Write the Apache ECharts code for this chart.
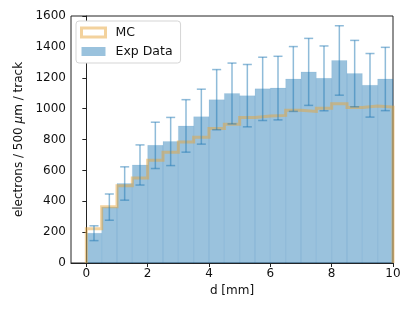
<!DOCTYPE html>
<html>
<head>
<meta charset="utf-8">
<script src="https://cdn.jsdelivr.net/npm/echarts@6/dist/echarts.min.js"></script>
<style>
html,body{margin:0;padding:0;background:#fff;}
#chart{width:415px;height:311px;}
</style>
</head>
<body>
<div id="chart"></div>
<script>
// Bin edges in mm
const binEdges = [0,0.5,1,1.5,2,2.5,3,3.5,4,4.5,5,5.5,6,6.5,7,7.5,8,8.5,9,9.5,10];
// Experimental data (electrons / 500 um / track) and its uncertainty
const expData = [193,362,515,635,762,787,888,948,1058,1098,1084,1128,1133,1192,1238,1196,1312,1227,1151,1192];
const expErr  = [48,85,108,130,150,156,170,178,195,197,202,205,206,210,217,210,225,215,206,205];
// Monte Carlo prediction
const mcData  = [222,365,500,550,665,717,783,815,872,898,943,952,956,990,982,1002,1032,1008,1017,1010];
// Tick labels
const xTicks = [0,2,4,6,8,10];
const yTicks = [0,200,400,600,800,1000,1200,1400,1600];

const barColor = 'rgba(31,119,180,0.45)';
const errColor = 'rgba(31,119,180,0.5)';
const mcColor  = 'rgba(232,165,60,0.5)';
const font = 'DejaVu Sans';

const barRows = expData.map((v,i)=>[binEdges[i], binEdges[i+1], v]);
const errRows = expData.map((v,i)=>[(binEdges[i]+binEdges[i+1])/2, v, expErr[i]]);
const mcPts = [[binEdges[0],0]];
mcData.forEach((v,i)=>{ mcPts.push([binEdges[i],v]); mcPts.push([binEdges[i+1],v]); });
mcPts.push([binEdges[binEdges.length-1],0]);

const chart = echarts.init(document.getElementById('chart'), null, {renderer:'canvas'});
chart.setOption({
  animation:false,
  backgroundColor:'#fff',
  textStyle:{fontFamily:font},
  grid:{left:71,right:22,top:16,bottom:48,show:true,borderColor:'#222',borderWidth:1,backgroundColor:'transparent'},
  legend:{
    orient:'vertical', left:76, top:21,
    backgroundColor:'#fff', borderColor:'#d5d5d5', borderWidth:1, borderRadius:3,
    padding:[4,8,4,4], itemGap:4, itemWidth:24, itemHeight:9,
    textStyle:{fontFamily:font,fontSize:12.5,color:'#111',lineHeight:15,padding:[0,0,0,5]},
    data:[
      {name:'MC', icon:'rect', itemStyle:{color:'rgba(255,255,255,0)',borderColor:mcColor,borderWidth:3}},
      {name:'Exp Data', icon:'rect', itemStyle:{color:barColor,borderWidth:0}}
    ]
  },
  xAxis:{
    type:'value', min:-0.5, max:10,
    name:'d [mm]', nameLocation:'middle', nameGap:21,
    nameTextStyle:{fontFamily:font,fontSize:12,color:'#111'},
    axisLine:{show:true,lineStyle:{color:'#222',width:1}},
    axisTick:{show:true,length:4,lineStyle:{color:'#222'},customValues:xTicks},
    axisLabel:{fontFamily:font,fontSize:12,color:'#111',margin:5,customValues:xTicks,formatter:function(v){return String(v);}},
    splitLine:{show:false}
  },
  yAxis:{
    type:'value', min:0, max:1600, interval:200,
    name:'electrons / 500 {i|μ}m / track', nameLocation:'middle', nameGap:34,
    nameTextStyle:{fontFamily:font,fontSize:12,color:'#111',rich:{i:{fontFamily:font,fontSize:12,fontStyle:'italic',color:'#111'}}},
    axisLine:{show:true,lineStyle:{color:'#222',width:1}},
    axisTick:{show:true,length:4,lineStyle:{color:'#222'}},
    axisLabel:{fontFamily:font,fontSize:12,color:'#111',margin:5,customValues:yTicks,formatter:function(v){return String(v);}},
    splitLine:{show:false}
  },
  series:[
    {
      name:'Exp Data', type:'custom', z:1, data:barRows,
      encode:{x:[0,1],y:2},
      itemStyle:{color:barColor},
      renderItem:function(params, api){
        const p0 = api.coord([api.value(0), api.value(2)]);
        const p1 = api.coord([api.value(1), 0]);
        return {type:'rect', shape:{x:p0[0],y:p0[1],width:p1[0]-p0[0],height:p1[1]-p0[1]},
          style:{fill:barColor, stroke:'rgba(31,119,180,0.08)', lineWidth:1}};
      }
    },
    {
      name:'MC', type:'line', z:2, data:mcPts, symbol:'none', showSymbol:false,
      lineStyle:{color:mcColor,width:3,join:'miter'}, itemStyle:{color:mcColor},
      clip:false
    },
    {
      name:'err', type:'custom', z:3, data:errRows,
      encode:{x:0,y:[1,2]},
      renderItem:function(params, api){
        const x = api.value(0), v = api.value(1), e = api.value(2);
        const top = api.coord([x, v+e]);
        const bot = api.coord([x, v-e]);
        const cw = 4.5;
        const st = {stroke:errColor, lineWidth:1.5};
        return {type:'group', children:[
          {type:'line', shape:{x1:top[0],y1:top[1],x2:bot[0],y2:bot[1]}, style:st},
          {type:'line', shape:{x1:top[0]-cw,y1:top[1],x2:top[0]+cw,y2:top[1]}, style:st},
          {type:'line', shape:{x1:bot[0]-cw,y1:bot[1],x2:bot[0]+cw,y2:bot[1]}, style:st}
        ]};
      }
    }
  ]
});
</script>
</body>
</html>
